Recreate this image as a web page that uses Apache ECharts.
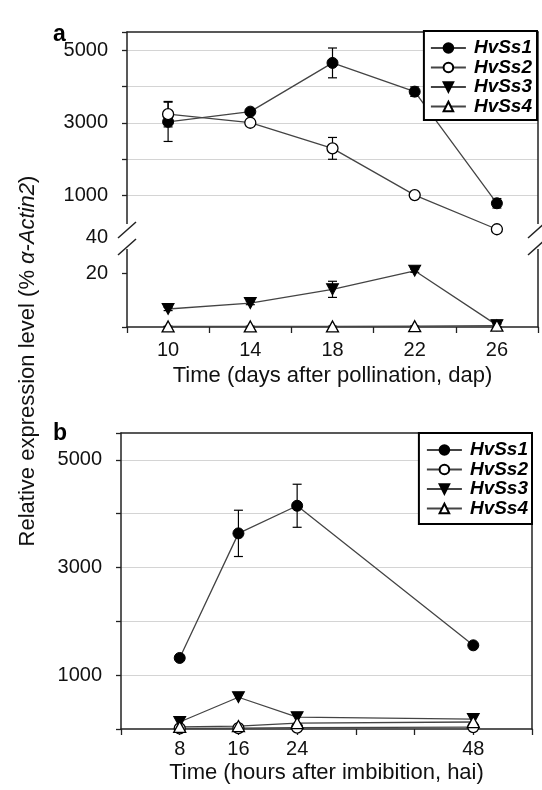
<!DOCTYPE html>
<html><head><meta charset="utf-8">
<script src="https://cdn.jsdelivr.net/npm/echarts@6/dist/echarts.min.js"></script>
<style>html,body{margin:0;padding:0;background:#fff}#c{width:542px;height:790px}</style>
</head><body><div id="c"></div>
<script>
// ---------- data ----------
const seriesNames = ['HvSs1', 'HvSs2', 'HvSs3', 'HvSs4'];
// panel a
const daysA = ['10', '14', '18', '22', '26'];
const aHvSs1 = [3030, 3310, 4650, 3860, 790];
const aHvSs1Err = [540, 60, 410, 130, 130];
const aHvSs2 = [3240, 3005, 2300, 1015, 75];
const aHvSs2Err = [350, 90, 300, 50, 40];
const aHvSs3 = [6.7, 8.9, 14, 20.9, 0.7];
const aHvSs3Err = [0.6, 0.6, 3, 0.6, 0.5];
const aHvSs4 = [0.2, 0.2, 0.2, 0.3, 0.5];
const aHvSs4Err = [0.1, 0.1, 0.1, 0.1, 0.6];
const aUpperTicks = [1000, 3000, 5000];
const aLowerTicks = [20];
const aBreakLabel = '40';
// panel b
const hoursB = [8, 16, 24, 48];
const bHvSs1 = [1320, 3635, 4148, 1555];
const bHvSs1Err = [0, 430, 400, 0];
const bHvSs2 = [10, 15, 25, 35];
const bHvSs3 = [130, 590, 220, 185];
const bHvSs4 = [40, 55, 110, 130];
const bXTicks = [8, 16, 24, 48];
const bYTicks = [1000, 3000, 5000];

// ---------- styles ----------
const FF = 'Liberation Sans, Arial, sans-serif';
const AX = '#222';
const GRIDC = '#d4d4d4';
const LINEC = '#444';
const downTri = 'path://M0,0 L10,0 L5,9 Z';
const upTri = 'path://M5,0 L10,9 L0,9 Z';
const markers = [
  {symbol: 'circle', symbolSize: 11, itemStyle: {color: '#000', borderColor: '#000', borderWidth: 1}},
  {symbol: 'circle', symbolSize: 11, itemStyle: {color: '#fff', borderColor: '#000', borderWidth: 1.3}},
  {symbol: downTri, symbolSize: [12, 11], itemStyle: {color: '#000', borderColor: '#000', borderWidth: 1}},
  {symbol: upTri, symbolSize: [12, 11], itemStyle: {color: '#fff', borderColor: '#000', borderWidth: 1.3}}
];

function lineSeries(idx, data, xi, yi) {
  return Object.assign({
    type: 'line', name: seriesNames[idx], data: data, xAxisIndex: xi, yAxisIndex: yi,
    lineStyle: {color: LINEC, width: 1.3}, z: 3, clip: false
  }, JSON.parse(JSON.stringify(markers[idx])));
}
function errData(xs, vals, errs) {
  return vals.map((v, i) => [xs[i], v - errs[i], v + errs[i]]);
}
function errSeries(data, xi, yi) {
  return {
    type: 'custom', xAxisIndex: xi, yAxisIndex: yi, z: 2, silent: true,
    encode: {x: 0, y: [1, 2]},
    data: data,
    renderItem: function (params, api) {
      const x = api.value(0), lo = api.value(1), hi = api.value(2);
      if (hi - lo <= 0) return null;
      const p1 = api.coord([x, hi]), p2 = api.coord([x, lo]);
      const w = 4.5, st = {stroke: '#000', lineWidth: 1.2};
      return {type: 'group', children: [
        {type: 'line', shape: {x1: p1[0], y1: p1[1], x2: p2[0], y2: p2[1]}, style: st},
        {type: 'line', shape: {x1: p1[0] - w, y1: p1[1], x2: p1[0] + w, y2: p1[1]}, style: st},
        {type: 'line', shape: {x1: p2[0] - w, y1: p2[1], x2: p2[0] + w, y2: p2[1]}, style: st}
      ]};
    }
  };
}
const idxA = daysA.map((d, i) => i);

const axisLine = {show: true, onZero: false, lineStyle: {color: AX, width: 1.5}};
const tick = {show: true, length: 5, lineStyle: {color: AX, width: 1.3}};
const lbl = {fontFamily: FF, fontSize: 20, color: '#111', formatter: (v) => String(v)};
const borderAxis = (type, extra) => Object.assign({
  type: type, axisLine: axisLine, axisTick: {show: false}, axisLabel: {show: false}, splitLine: {show: false}
}, extra);

const legendBase = {
  orient: 'vertical', itemWidth: 35, itemHeight: 12, itemGap: 0.5,
  borderColor: '#000', borderWidth: 2, backgroundColor: '#fff',
  textStyle: {fontFamily: FF, fontStyle: 'italic', fontWeight: 'bold', fontSize: 19, lineHeight: 19, color: '#000', padding: [0, 0, 0, 3]},
  data: seriesNames
};

const chart = echarts.init(document.getElementById('c'), null, {renderer: 'canvas'});
chart.setOption({
  animation: false,
  grid: [
    {left: 127, right: 4, top: 32, height: 200},
    {left: 127, right: 4, top: 249, bottom: 790 - 327},
    {left: 121, right: 10, top: 433, bottom: 790 - 729}
  ],
  xAxis: [
    borderAxis('category', {gridIndex: 0, position: 'top', data: daysA, boundaryGap: true}),
    {
      type: 'category', gridIndex: 1, data: daysA, boundaryGap: true,
      axisLine: axisLine, axisTick: Object.assign({}, tick, {length: 6}),
      axisLabel: Object.assign({}, lbl, {margin: 13}),
      splitLine: {show: false},
      name: 'Time (days after pollination, dap)', nameLocation: 'middle', nameGap: 38,
      nameTextStyle: {fontFamily: FF, fontSize: 22, color: '#111'}
    },
    {
      type: 'value', gridIndex: 2, min: 0, max: 56, interval: 8,
      axisLine: axisLine, axisTick: Object.assign({}, tick, {length: 6}),
      axisLabel: Object.assign({}, lbl, {margin: 10, customValues: bXTicks}),
      splitLine: {show: false},
      name: 'Time (hours after imbibition, hai)', nameLocation: 'middle', nameGap: 33,
      nameTextStyle: {fontFamily: FF, fontSize: 22, color: '#111'}
    },
    borderAxis('value', {gridIndex: 2, position: 'top', min: 0, max: 56})
  ],
  yAxis: [
    {
      type: 'value', gridIndex: 0, min: 0, max: 5500, interval: 1000,
      axisLine: axisLine, axisTick: tick,
      axisLabel: Object.assign({}, lbl, {margin: 19, customValues: aUpperTicks}),
      splitLine: {show: true, showMinLine: false, showMaxLine: false, lineStyle: {color: GRIDC, width: 1}}
    },
    {
      type: 'value', gridIndex: 1, min: 0, max: 29, interval: 20,
      axisLine: axisLine, axisTick: Object.assign({}, tick, {customValues: [0, 20]}),
      axisLabel: Object.assign({}, lbl, {margin: 19, customValues: aLowerTicks}),
      splitLine: {show: true, showMinLine: false, showMaxLine: false, lineStyle: {color: GRIDC, width: 1}}
    },
    borderAxis('value', {gridIndex: 0, position: 'right', min: 0, max: 5500}),
    borderAxis('value', {gridIndex: 1, position: 'right', min: 0, max: 29}),
    {
      type: 'value', gridIndex: 2, min: 0, max: 5500, interval: 1000,
      axisLine: axisLine, axisTick: tick,
      axisLabel: Object.assign({}, lbl, {margin: 19, customValues: bYTicks}),
      splitLine: {show: true, showMinLine: false, showMaxLine: false, lineStyle: {color: GRIDC, width: 1}}
    },
    borderAxis('value', {gridIndex: 2, position: 'right', min: 0, max: 5500})
  ],
  legend: [
    Object.assign({}, legendBase, {right: 5, top: 31, padding: [7.5, 5, 4, 6]}),
    Object.assign({}, legendBase, {right: 10, top: 433, padding: [7.5, 4, 6, 7]})
  ],
  series: [
    errSeries(errData(idxA, aHvSs1, aHvSs1Err), 0, 0),
    errSeries(errData(idxA, aHvSs2, aHvSs2Err), 0, 0),
    errSeries(errData(idxA, aHvSs3, aHvSs3Err), 1, 1),
    errSeries(errData(idxA, aHvSs4, aHvSs4Err), 1, 1),
    lineSeries(0, aHvSs1, 0, 0),
    lineSeries(1, aHvSs2, 0, 0),
    lineSeries(2, aHvSs3, 1, 1),
    lineSeries(3, aHvSs4, 1, 1),
    errSeries(errData(hoursB, bHvSs1, bHvSs1Err), 2, 4),
    lineSeries(0, hoursB.map((h, i) => [h, bHvSs1[i]]), 2, 4),
    lineSeries(1, hoursB.map((h, i) => [h, bHvSs2[i]]), 2, 4),
    lineSeries(2, hoursB.map((h, i) => [h, bHvSs3[i]]), 2, 4),
    lineSeries(3, hoursB.map((h, i) => [h, bHvSs4[i]]), 2, 4)
  ],
  graphic: [
    // axis break covers and slashes (panel a, left and right)
    {type: 'rect', shape: {x: 120, y: 224, width: 14, height: 25}, style: {fill: '#fff'}, z: 50},
    {type: 'rect', shape: {x: 530, y: 224, width: 12, height: 25}, style: {fill: '#fff'}, z: 50},
    {type: 'line', shape: {x1: 118, y1: 238, x2: 136, y2: 222}, style: {stroke: AX, lineWidth: 1.5}, z: 51},
    {type: 'line', shape: {x1: 118, y1: 255, x2: 136, y2: 239}, style: {stroke: AX, lineWidth: 1.5}, z: 51},
    {type: 'line', shape: {x1: 528, y1: 238, x2: 546, y2: 222}, style: {stroke: AX, lineWidth: 1.5}, z: 51},
    {type: 'line', shape: {x1: 528, y1: 255, x2: 546, y2: 239}, style: {stroke: AX, lineWidth: 1.5}, z: 51},
    {type: 'text', x: 108, y: 237, z: 52, style: {text: aBreakLabel, font: '20px ' + FF, fill: '#111', align: 'right', verticalAlign: 'middle'}},
    // panel letters
    {type: 'text', x: 53, y: 23, style: {text: 'a', font: 'bold 23px ' + FF, fill: '#000', align: 'left', verticalAlign: 'alphabetic'}},
    {type: 'text', x: 53, y: 422, style: {text: 'b', font: 'bold 23px ' + FF, fill: '#000', align: 'left', verticalAlign: 'alphabetic'}},
    // shared y-axis title
    {type: 'text', x: 28, y: 361, rotation: Math.PI / 2,
      style: {
        text: '{n|Relative expression level (% }{i|α-Actin2}{n|)}',
        align: 'center', verticalAlign: 'middle', fill: '#111',
        rich: {
          n: {fontFamily: FF, fontSize: 22, color: '#111'},
          i: {fontFamily: FF, fontSize: 22, fontStyle: 'italic', color: '#111'}
        }
      }}
  ]
});
</script></body></html>
